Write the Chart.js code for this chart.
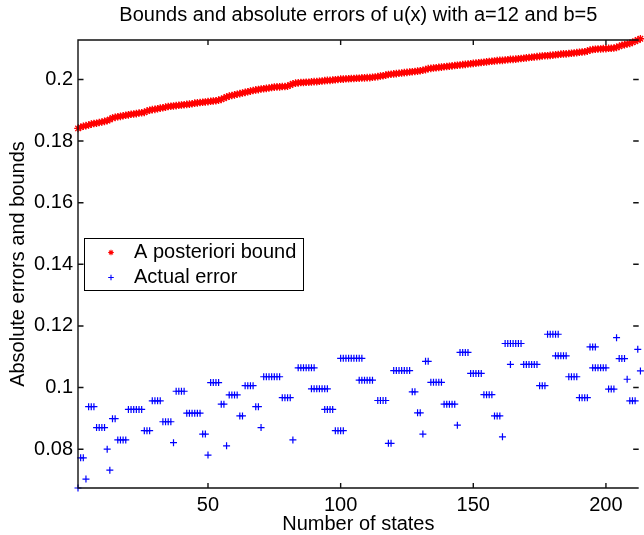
<!DOCTYPE html>
<html>
<head>
<meta charset="utf-8">
<title>Bounds and absolute errors</title>
<script src="https://cdn.jsdelivr.net/npm/chart.js@4.4.1/dist/chart.umd.min.js"></script>
<style>
  html, body { margin: 0; padding: 0; background: #fff; overflow: hidden; }
  #errChart { display: block; }
</style>
</head>
<body>
<canvas id="errChart" width="644" height="535"></canvas>
<script>
// 坐标轴刻度
const xTicks = [50, 100, 150, 200];
const yTicks = [0.08, 0.1, 0.12, 0.14, 0.16, 0.18, 0.2];

// 后验界 (state 1 .. 213)
const boundValues = [
    0.1841, 0.1845, 0.1848, 0.1850, 0.1852, 0.1855, 0.1857, 0.1858, 0.1860, 0.1862,
    0.1864, 0.1866, 0.1870, 0.1875, 0.1877, 0.1879, 0.1880, 0.1882, 0.1884, 0.1885,
    0.1887, 0.1888, 0.1889, 0.1891, 0.1892, 0.1893, 0.1897, 0.1900, 0.1902, 0.1903,
    0.1905, 0.1907, 0.1908, 0.1910, 0.1912, 0.1913, 0.1914, 0.1915, 0.1916, 0.1917,
    0.1918, 0.1919, 0.1920, 0.1921, 0.1923, 0.1924, 0.1925, 0.1926, 0.1927, 0.1928,
    0.1929, 0.1930, 0.1931, 0.1933, 0.1935, 0.1939, 0.1943, 0.1946, 0.1948, 0.1950,
    0.1952, 0.1954, 0.1956, 0.1958, 0.1960, 0.1962, 0.1964, 0.1966, 0.1967, 0.1969,
    0.1970, 0.1971, 0.1972, 0.1974, 0.1975, 0.1976, 0.1976, 0.1977, 0.1977, 0.1978,
    0.1982, 0.1986, 0.1988, 0.1989, 0.1990, 0.1990, 0.1991, 0.1991, 0.1992, 0.1993,
    0.1993, 0.1994, 0.1995, 0.1996, 0.1997, 0.1997, 0.1998, 0.1999, 0.2000, 0.2001,
    0.2001, 0.2002, 0.2002, 0.2003, 0.2003, 0.2004, 0.2004, 0.2005, 0.2005, 0.2006,
    0.2006, 0.2007, 0.2008, 0.2009, 0.2011, 0.2012, 0.2014, 0.2016, 0.2017, 0.2018,
    0.2019, 0.2020, 0.2021, 0.2022, 0.2023, 0.2024, 0.2025, 0.2026, 0.2027, 0.2028,
    0.2030, 0.2032, 0.2035, 0.2036, 0.2037, 0.2038, 0.2039, 0.2040, 0.2041, 0.2042,
    0.2043, 0.2044, 0.2045, 0.2046, 0.2047, 0.2048, 0.2049, 0.2050, 0.2051, 0.2052,
    0.2053, 0.2054, 0.2055, 0.2056, 0.2057, 0.2058, 0.2059, 0.2060, 0.2061, 0.2062,
    0.2062, 0.2063, 0.2064, 0.2065, 0.2065, 0.2066, 0.2067, 0.2068, 0.2069, 0.2070,
    0.2071, 0.2072, 0.2073, 0.2074, 0.2075, 0.2076, 0.2077, 0.2077, 0.2078, 0.2079,
    0.2080, 0.2081, 0.2082, 0.2083, 0.2083, 0.2084, 0.2085, 0.2086, 0.2087, 0.2088,
    0.2089, 0.2090, 0.2092, 0.2095, 0.2097, 0.2098, 0.2099, 0.2099, 0.2100, 0.2100,
    0.2101, 0.2101, 0.2102, 0.2104, 0.2107, 0.2111, 0.2113, 0.2115, 0.2117, 0.2120,
    0.2124, 0.2128, 0.2132
];

// 实际误差: 状态数 与 误差值 一一对应
const errorStates = [
    1, 2, 3, 4, 5, 6, 7, 8, 9, 10,
    11, 12, 13, 14, 15, 16, 17, 18, 19, 20,
    21, 22, 23, 24, 25, 26, 27, 28, 29, 30,
    31, 32, 33, 34, 35, 36, 37, 38, 39, 40,
    41, 42, 43, 44, 45, 46, 47, 48, 49, 50,
    51, 52, 53, 54, 55, 56, 57, 58, 59, 60,
    61, 62, 63, 64, 65, 66, 67, 68, 69, 70,
    71, 72, 73, 74, 75, 76, 77, 78, 79, 80,
    81, 82,
    84, 85, 86, 87, 88, 89, 90,
    89, 90, 91, 92, 93, 94, 95,
    94, 95, 96, 97,
    98, 99, 100, 101,
    100, 101, 102, 103, 104, 105, 106, 107, 108,
    107, 108, 109, 110, 111, 112,
    114, 115, 116, 117,
    118, 119,
    120, 121, 122, 123, 124, 125, 126,
    127, 128,
    129, 130,
    131,
    132, 133,
    134, 135, 136, 137, 138,
    139, 140, 141, 142, 143,
    144,
    145, 146, 147, 148,
    149, 150, 151, 152, 153,
    154, 155, 156, 157,
    158, 159, 160,
    161,
    162, 163, 164, 165, 166, 167, 168,
    164,
    169, 170, 171, 172, 173, 174,
    175, 176, 177,
    178, 179, 180, 181, 182,
    181, 182, 183, 184, 185,
    186, 187, 188, 189,
    190, 191, 192, 193,
    194, 195, 196,
    195, 196, 197, 198, 199, 200,
    201, 202, 203,
    204,
    205, 206, 207,
    208,
    209, 210, 211,
    212,
    213
];

const errorValues = [
    0.0674, 0.0772, 0.0772, 0.0703, 0.0938, 0.0938, 0.0938, 0.0870, 0.0870, 0.0870,
    0.0870, 0.0800, 0.0732, 0.0899, 0.0899, 0.0830, 0.0830, 0.0830, 0.0830, 0.0929,
    0.0929, 0.0929, 0.0929, 0.0929, 0.0929, 0.0860, 0.0860, 0.0860, 0.0957, 0.0957,
    0.0957, 0.0957, 0.0889, 0.0889, 0.0889, 0.0889, 0.0821, 0.0988, 0.0988, 0.0988,
    0.0988, 0.0917, 0.0917, 0.0917, 0.0917, 0.0917, 0.0917, 0.0849, 0.0849, 0.0781,
    0.1016, 0.1016, 0.1016, 0.1016, 0.0946, 0.0946, 0.0811, 0.0976, 0.0976, 0.0976,
    0.0976, 0.0908, 0.0908, 0.1006, 0.1006, 0.1006, 0.1006, 0.0938, 0.0938, 0.0870,
    0.1035, 0.1035, 0.1035, 0.1035, 0.1035, 0.1035, 0.1035, 0.0967, 0.0967, 0.0967,
    0.0967, 0.0830,
    0.1064, 0.1064, 0.1064, 0.1064, 0.1064, 0.1064, 0.1064,
    0.0996, 0.0996, 0.0996, 0.0996, 0.0996, 0.0996, 0.0996,
    0.0929, 0.0929, 0.0929, 0.0929,
    0.0860, 0.0860, 0.0860, 0.0860,
    0.1095, 0.1095, 0.1095, 0.1095, 0.1095, 0.1095, 0.1095, 0.1095, 0.1095,
    0.1024, 0.1024, 0.1024, 0.1024, 0.1024, 0.1024,
    0.0958, 0.0958, 0.0958, 0.0958,
    0.0819, 0.0819,
    0.1055, 0.1055, 0.1055, 0.1055, 0.1055, 0.1055, 0.1055,
    0.0986, 0.0986,
    0.0918, 0.0918,
    0.0849,
    0.1085, 0.1085,
    0.1017, 0.1017, 0.1017, 0.1017, 0.1017,
    0.0946, 0.0946, 0.0946, 0.0946, 0.0946,
    0.0878,
    0.1114, 0.1114, 0.1114, 0.1114,
    0.1046, 0.1046, 0.1046, 0.1046, 0.1046,
    0.0977, 0.0977, 0.0977, 0.0977,
    0.0908, 0.0908, 0.0908,
    0.0840,
    0.1143, 0.1143, 0.1143, 0.1143, 0.1143, 0.1143, 0.1143,
    0.1075,
    0.1075, 0.1075, 0.1075, 0.1075, 0.1075, 0.1075,
    0.1006, 0.1006, 0.1006,
    0.1173, 0.1173, 0.1173, 0.1173, 0.1173,
    0.1103, 0.1103, 0.1103, 0.1103, 0.1103,
    0.1035, 0.1035, 0.1035, 0.1035,
    0.0967, 0.0967, 0.0967, 0.0967,
    0.1132, 0.1132, 0.1132,
    0.1064, 0.1064, 0.1064, 0.1064, 0.1064, 0.1064,
    0.0995, 0.0995, 0.0995,
    0.1162,
    0.1094, 0.1094, 0.1094,
    0.1027,
    0.0957, 0.0957, 0.0957,
    0.1124,
    0.1054
];

const FONT = '"Liberation Sans", Arial, Helvetica, sans-serif';
Chart.defaults.font.family = FONT;
Chart.defaults.color = '#000';

// 坐标框和向内的刻度线 (MATLAB 风格)
const axesBoxPlugin = {
    id: 'axesBox',
    afterDatasetsDraw(chart) {
        const { ctx, chartArea: a, scales: { x, y } } = chart;
        ctx.save();
        ctx.strokeStyle = '#111';
        ctx.lineWidth = 1.4;
        ctx.beginPath();
        ctx.moveTo(a.right, a.top);
        ctx.lineTo(a.left, a.top);
        ctx.lineTo(a.left, a.bottom);
        ctx.lineTo(a.right, a.bottom);
        xTicks.forEach(v => {
            const px = x.getPixelForValue(v);
            ctx.moveTo(px, a.bottom);
            ctx.lineTo(px, a.bottom - 5);
            ctx.moveTo(px, a.top);
            ctx.lineTo(px, a.top + 5);
        });
        yTicks.forEach(v => {
            const py = y.getPixelForValue(v);
            ctx.moveTo(a.left, py);
            ctx.lineTo(a.left + 5.5, py);
            ctx.moveTo(a.right, py);
            ctx.lineTo(a.right - 5.5, py);
        });
        ctx.stroke();
        ctx.restore();
    }
};

// 图例, 放在坐标区左侧中部
const legendBoxPlugin = {
    id: 'legendBox',
    afterDraw(chart) {
        const { ctx, chartArea: a } = chart;
        const left = a.left + 6;
        const top = a.top + 198;
        const w = 219;
        const h = 52;
        ctx.save();
        ctx.fillStyle = '#fff';
        ctx.fillRect(left, top, w, h);
        ctx.strokeStyle = '#000';
        ctx.lineWidth = 1;
        ctx.strokeRect(left + 0.5, top + 0.5, w, h);

        const rows = chart.data.datasets.map((ds, i) => ({ ds, y: top + 14.5 + i * 25 }));
        rows.forEach(({ ds, y }) => {
            ctx.strokeStyle = ds.borderColor;
            ctx.lineWidth = 1.1;
            Chart.helpers.drawPoint(ctx, { pointStyle: ds.pointStyle, radius: 2.8, rotation: 0, borderWidth: 1.1 }, left + 27, y);
            ctx.fillStyle = '#000';
            ctx.font = '20px ' + FONT;
            ctx.textBaseline = 'middle';
            ctx.textAlign = 'left';
            ctx.fillText(ds.label, left + 50, y);
        });
        ctx.restore();
    }
};

const ctx = document.getElementById('errChart').getContext('2d');
const boundPoints = boundValues.map((v, i) => ({ x: i + 1, y: v }));
const errorPoints = errorStates.map((s, i) => ({ x: s, y: errorValues[i] }));
console.log('bound points:', boundPoints.length, 'error points:', errorPoints.length);

new Chart(ctx, {
    type: 'scatter',
    data: {
        datasets: [
            {
                label: 'A posteriori bound',
                data: boundPoints,
                pointStyle: 'star',
                pointRadius: 3.8,
                borderColor: 'rgb(255, 0, 0)',
                backgroundColor: 'rgb(255, 0, 0)',
                borderWidth: 1.3,
                clip: false
            },
            {
                label: 'Actual error',
                data: errorPoints,
                pointStyle: 'cross',
                pointRadius: 3.5,
                borderColor: 'rgb(0, 0, 255)',
                backgroundColor: 'rgb(0, 0, 255)',
                borderWidth: 1.2,
                clip: false
            }
        ]
    },
    options: {
        responsive: false,
        animation: false,
        devicePixelRatio: 1,
        layout: { padding: 0 },
        plugins: {
            legend: { display: false },
            tooltip: { enabled: false },
            title: {
                display: true,
                fullSize: false,
                text: 'Bounds and absolute errors of u(x) with a=12 and b=5',
                font: { size: 20, weight: 'normal', lineHeight: 1.2 },
                color: '#000',
                padding: { top: 3, bottom: 13 }
            }
        },
        scales: {
            x: {
                type: 'linear',
                min: 1,
                max: 212.35,
                afterBuildTicks: scale => { scale.ticks = xTicks.map(v => ({ value: v })); },
                afterFit: scale => { scale.height = 47; },
                grid: { display: false, drawTicks: false },
                border: { display: false },
                ticks: { font: { size: 20 }, color: '#000', padding: 5, maxRotation: 0, autoSkip: false },
                title: {
                    display: true,
                    text: 'Number of states',
                    font: { size: 20, lineHeight: 1 },
                    color: '#000',
                    padding: { top: 0, bottom: 1 }
                }
            },
            y: {
                type: 'linear',
                min: 0.0674,
                max: 0.2128,
                afterBuildTicks: scale => { scale.ticks = yTicks.map(v => ({ value: v })); },
                afterFit: scale => { scale.width = 78; },
                grid: { display: false, drawTicks: false },
                border: { display: false },
                ticks: {
                    font: { size: 20 },
                    color: '#000',
                    padding: 5,
                    callback: v => String(Number(v.toFixed(2)))
                },
                title: {
                    display: true,
                    text: 'Absolute errors and bounds',
                    font: { size: 20, lineHeight: 1 },
                    color: '#000',
                    padding: { top: 8.5, bottom: 0 }
                }
            }
        }
    },
    plugins: [axesBoxPlugin, legendBoxPlugin]
});
</script>
</body>
</html>
